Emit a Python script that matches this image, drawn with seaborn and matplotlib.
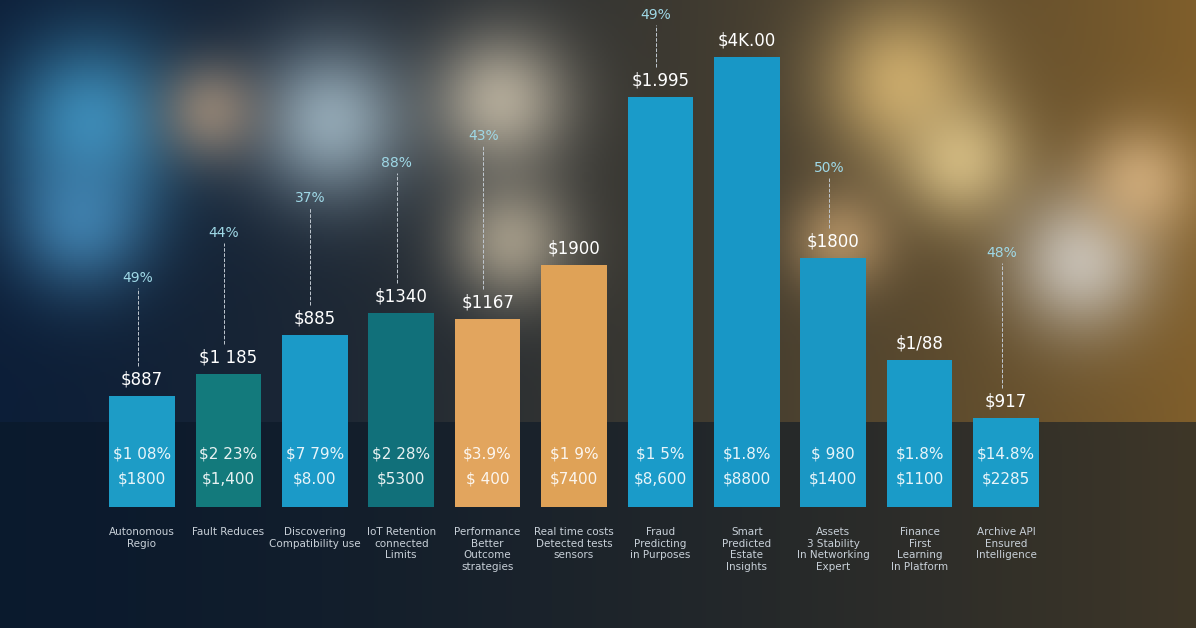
import numpy as np
import pandas as pd
import seaborn as sns
import matplotlib.pyplot as plt

# chart values
categories = ["Autonomous\nRegio", "Fault Reduces", "Discovering\nCompatibility use", "IoT Retention\nconnected\nLimits",
              "Performance\nBetter\nOutcome\nstrategies", "Real time costs\nDetected tests\nsensors", "Fraud\nPredicting\nin Purposes",
              "Smart\nPredicted\nEstate\nInsights", "Assets\n3 Stability\nIn Networking\nExpert", "Finance\nFirst\nLearning\nIn Platform",
              "Archive API\nEnsured\nIntelligence"]
heights = [111, 133, 172, 194, 188, 242, 410, 450, 249, 147, 89]
top_labels = ["$887", "$1 185", "$885", "$1340", "$1167", "$1900", "$1.995", "$4K.00", "$1800", "$1/88", "$917"]
inner_top = ["$1 08%", "$2 23%", "$7 79%", "$2 28%", "$3.9%", "$1 9%", "$1 5%", "$1.8%", "$ 980", "$1.8%", "$14.8%"]
inner_bot = ["$1800", "$1,400", "$8.00", "$5300", "$ 400", "$7400", "$8,600", "$8800", "$1400", "$1100", "$2285"]
pct_labels = ["49%", "44%", "37%", "88%", "43%", "", "49%", "", "50%", "", "48%"]
pct_heights = [222, 267, 302, 337, 364, 0, 485, 0, 332, 0, 247]
colors = ["#1d9cc6", "#137a7c", "#1b9ac8", "#11707a", "#e2a55e", "#dfa257",
          "#1a9bc9", "#1897c6", "#1a97c4", "#1a9bc8", "#1b9cc8"]

df = pd.DataFrame({"cat": categories, "value": heights})

fig = plt.figure(figsize=(11.96, 6.28), dpi=100)

# blurred bokeh background
bg = fig.add_axes([0, 0, 1, 1])
h, w = 314, 598
yy, xx = np.mgrid[0:h, 0:w]
t = xx / w
img = np.zeros((h, w, 3))
img[..., 0] = 0.05 + 0.45 * t ** 1.5
img[..., 1] = 0.12 + 0.25 * t ** 1.5
img[..., 2] = 0.22 - 0.05 * t
for cx, cy, r, c in [(45, 60, 30, (0.3, 0.7, 0.9)), (40, 110, 25, (0.3, 0.6, 0.8)),
                     (165, 60, 28, (0.75, 0.85, 0.9)), (105, 55, 18, (0.7, 0.6, 0.5)),
                     (250, 50, 25, (0.9, 0.85, 0.75)), (255, 120, 22, (0.8, 0.75, 0.65)),
                     (450, 40, 28, (0.95, 0.8, 0.5)), (480, 80, 22, (0.95, 0.85, 0.6)),
                     (540, 130, 25, (0.9, 0.9, 0.9)), (570, 90, 20, (0.9, 0.75, 0.55)),
                     (420, 120, 18, (0.8, 0.65, 0.45))]:
    g = np.exp(-((xx - cx) ** 2 + (yy - cy) ** 2) / (2 * r ** 2))[..., None]
    img = img * (1 - 0.7 * g) + np.array(c) * 0.7 * g
floor = (yy > 210)[..., None]
img = np.where(floor, img * 0.45 + np.array([0.05, 0.12, 0.2]) * 0.4, img)
bg.imshow(np.clip(img, 0, 1), aspect="auto", extent=[0, 1, 0, 1])
bg.axis("off")

ax = fig.add_axes([0.0826, 0.1927, 0.7947, 0.796])
ax.patch.set_alpha(0)
sns.barplot(data=df, x="cat", y="value", palette=colors, hue="cat", legend=False,
            width=0.76, ax=ax, saturation=1)
ax.set_xlim(-0.5, 10.5)
ax.set_ylim(0, 500)
ax.axis("off")

for i, v in enumerate(heights):
    ax.text(i, v + 8, top_labels[i], ha="center", va="bottom", color="white", fontsize=12)
    ax.text(i, 45, inner_top[i], ha="center", va="bottom", color="white", fontsize=11, alpha=0.9)
    ax.text(i, 20, inner_bot[i], ha="center", va="bottom", color="white", fontsize=11, alpha=0.9)
    ax.text(i, -20, categories[i], ha="center", va="top", color="#c8d0d8", fontsize=7.5)
    if pct_labels[i]:
        ax.text(i - 0.05, pct_heights[i], pct_labels[i], ha="center", va="bottom",
                color="#9fd8e6", fontsize=10)
        ax.plot([i - 0.05, i - 0.05], [v + 30, pct_heights[i] - 3], ls="--", color="#c0c8d0", lw=0.7)

fig.savefig("out.png", dpi=100)
